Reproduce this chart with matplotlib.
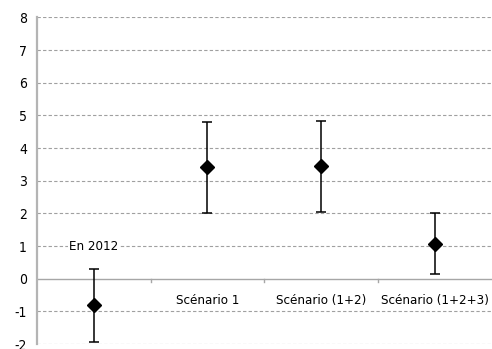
import matplotlib
matplotlib.use('Agg')
import matplotlib.pyplot as plt

# données
categories = ['En 2012', 'Scénario 1', 'Scénario (1+2)', 'Scénario (1+2+3)']
valeurs = [-0.82, 3.41, 3.44, 1.07]
haut = [0.29, 4.81, 4.84, 2.01]
bas = [-1.95, 2.02, 2.03, 0.13]
yticks = list(range(-2, 9))

plt.rcParams['font.family'] = ['DejaVu Sans']
plt.rcParams['font.stretch'] = 'condensed'

fig = plt.figure(figsize=(4.92, 3.49), dpi=100)
ax = fig.add_axes([0.0746, 0.0143, 0.9254, 0.936])

x = list(range(len(categories)))
err_bas = [v - b for v, b in zip(valeurs, bas)]
err_haut = [h - v for v, h in zip(valeurs, haut)]
ax.errorbar(x, valeurs, yerr=[err_bas, err_haut], fmt='D', color='black',
            ms=7.5, elinewidth=1.1, capsize=3.5, capthick=1.1, zorder=3)

ax.set_xlim(-0.5, len(categories) - 0.5)
ax.set_ylim(-2, 8)
ax.set_yticks(yticks)
ax.set_yticklabels([str(t) for t in yticks], fontsize=10)
ax.tick_params(axis='y', length=0, pad=7)
ax.set_xticks([])

# grille pointillée
for t in yticks:
    if t != 0:
        ax.axhline(t, color='#a0a0a0', lw=0.8, ls=(0, (3, 2)), zorder=1)
ax.axhline(0, color='#a6a6a6', lw=1.0, zorder=2)

# petits traits des catégories
for i in range(1, len(categories)):
    ax.plot([i - 0.5, i - 0.5], [0, -0.1], color='#a6a6a6', lw=1.0,
            clip_on=False, zorder=2)

for s in ['top', 'right', 'bottom']:
    ax.spines[s].set_visible(False)
ax.spines['left'].set_color('#b4b4b4')
ax.spines['left'].set_linewidth(1.6)

# étiquettes des catégories
ax.text(0, 0.97, categories[0], ha='center', va='center', fontsize=9.5,
        bbox=dict(facecolor='white', edgecolor='none', pad=1), zorder=4)
for i in range(1, len(categories)):
    ax.text(i, -0.68, categories[i], ha='center', va='center', fontsize=9.5)

fig.savefig('out.png', dpi=100)
